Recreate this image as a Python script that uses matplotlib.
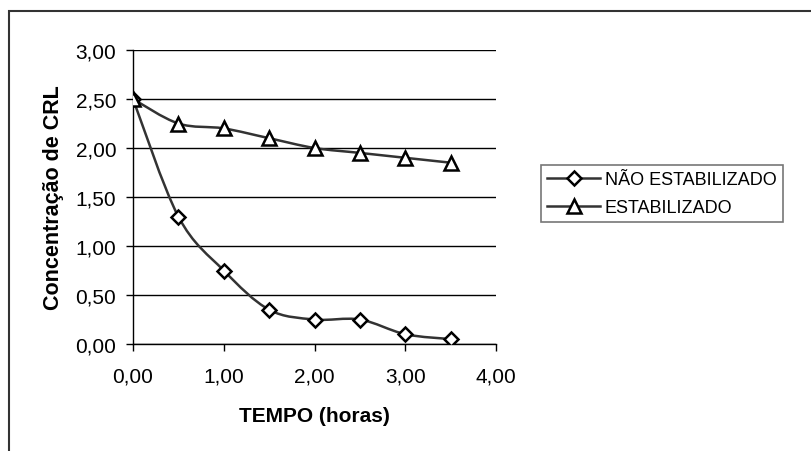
import matplotlib.pyplot as plt
import numpy as np
from matplotlib.path import Path
from matplotlib.patches import PathPatch, Rectangle
from matplotlib.ticker import FuncFormatter

plt.rcParams['font.family'] = ['Liberation Sans', 'DejaVu Sans']

# data
tempo = [0.0, 0.5, 1.0, 1.5, 2.0, 2.5, 3.0, 3.5]
nao_estabilizado = [2.50, 1.30, 0.75, 0.35, 0.25, 0.25, 0.10, 0.05]
estabilizado = [2.50, 2.25, 2.20, 2.10, 2.00, 1.95, 1.90, 1.85]

line_col = '#333333'


def smooth_path(x, y):
    # bezier through the points (excel-like smoothed line)
    pts = np.column_stack([x, y])
    n = len(pts)
    verts = [pts[0]]
    codes = [Path.MOVETO]
    for i in range(n - 1):
        p0 = pts[i - 1] if i > 0 else pts[i]
        p1 = pts[i]
        p2 = pts[i + 1]
        p3 = pts[i + 2] if i + 2 < n else pts[i + 1]
        c1 = p1 + (p2 - p0) / 6.
        c2 = p2 - (p3 - p1) / 6.
        verts += [c1, c2, p2]
        codes += [Path.CURVE4] * 3
    return Path(verts, codes)


fig = plt.figure(figsize=(8.11, 4.52), dpi=100)
ax = fig.add_axes([133 / 811, 107 / 452, 363 / 811, 294 / 452])

for ys, mk, ms, lab in [(nao_estabilizado, 'D', 7, 'NÃO ESTABILIZADO'),
                         (estabilizado, '^', 10, 'ESTABILIZADO')]:
    ax.add_patch(PathPatch(smooth_path(tempo, ys), facecolor='none',
                           edgecolor=line_col, lw=1.8, zorder=3))
    ax.plot(tempo, ys, linestyle='none', marker=mk, markersize=ms,
            markerfacecolor='white', markeredgecolor='black',
            markeredgewidth=1.8, zorder=4)
    # proxy for legend
    ax.plot([], [], color=line_col, lw=1.8, marker=mk, markersize=ms,
            markerfacecolor='white', markeredgecolor='black',
            markeredgewidth=1.8, label=lab)

ax.set_xlim(0, 4)
ax.set_ylim(0, 3)
ax.set_xticks([0, 1, 2, 3, 4])
ax.set_yticks(np.arange(0, 3.01, 0.5))
fmt = FuncFormatter(lambda v, p: ('%.2f' % v).replace('.', ','))
ax.xaxis.set_major_formatter(fmt)
ax.yaxis.set_major_formatter(fmt)
ax.tick_params(axis='both', direction='out', length=5, width=1,
               colors='black', labelsize=15)
ax.tick_params(axis='x', pad=11)
ax.tick_params(axis='y', pad=7)

ax.grid(axis='y', color='black', lw=1)
ax.set_axisbelow(True)
for s in ['top', 'right']:
    ax.spines[s].set_visible(False)
for s in ['left', 'bottom']:
    ax.spines[s].set_color('black')
    ax.spines[s].set_linewidth(1)

ax.set_xlabel('TEMPO (horas)', fontsize=15, fontweight='bold', labelpad=15)
ax.set_ylabel('Concentração de CRL', fontsize=15.5, fontweight='bold', labelpad=8)

leg = fig.legend(loc='upper left', bbox_to_anchor=(541 / 811, 1 - 166 / 452),
                 fontsize=13, frameon=True, fancybox=False, handlelength=2.9,
                 handletextpad=0.28, borderpad=0.35, labelspacing=0.6,
                 borderaxespad=0)
leg.get_frame().set_edgecolor('#555555')
leg.get_frame().set_linewidth(1.2)

# outer chart border (cut off at right and bottom)
fig.patches.append(Rectangle((9 / 811, -0.1), 1.2, 1 - 12 / 452 + 0.1,
                             transform=fig.transFigure, fill=False,
                             edgecolor='#333333', lw=1.5))

fig.savefig('out.png', dpi=100)
